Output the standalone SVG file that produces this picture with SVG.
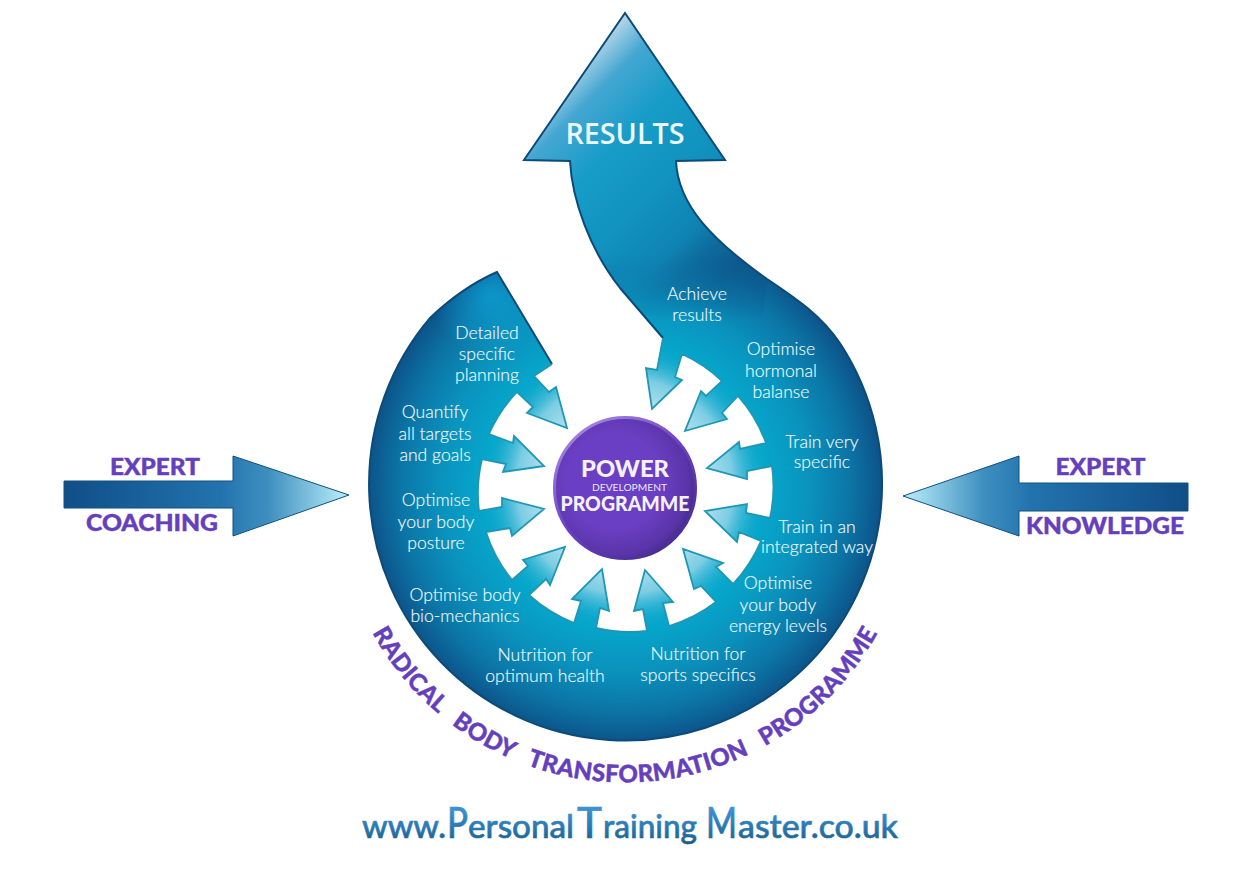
<svg xmlns="http://www.w3.org/2000/svg" width="1241" height="877" viewBox="0 0 1241 877">
<style>
.lab{font-family:"Lato","Liberation Sans",sans-serif;font-weight:300;font-size:17.6px;fill:#eefafd;text-anchor:middle;stroke:#eefafd;stroke-width:0.15}
.pur{font-family:"Lato","Liberation Sans",sans-serif;font-weight:900;fill:#6540bd;text-anchor:middle;stroke:#6540bd;stroke-width:0.4}
.wht{font-family:"Lato","Liberation Sans",sans-serif;font-weight:900;fill:#f4f1fb;text-anchor:middle}
.side{stroke:#12507e;stroke-width:1}
.edge{fill:none;stroke:#0d4a78;stroke-width:2;stroke-linejoin:miter}
.rim{fill:none;stroke:#1f97b4;stroke-width:1.8;stroke-linejoin:miter}
</style>
<defs>
<radialGradient id="bodyG" gradientUnits="userSpaceOnUse" cx="625" cy="486" r="257">
<stop offset="0.55" stop-color="#06a6cb"/><stop offset="0.72" stop-color="#0a92bd"/><stop offset="0.88" stop-color="#0c74a5"/><stop offset="1" stop-color="#0c5389"/>
</radialGradient>
<radialGradient id="tipG" gradientUnits="userSpaceOnUse" cx="490" cy="295" r="60">
<stop offset="0" stop-color="#0cb2e6" stop-opacity="0.6"/><stop offset="1" stop-color="#0cb2e6" stop-opacity="0"/>
</radialGradient>
<radialGradient id="arrowG" gradientUnits="userSpaceOnUse" cx="625" cy="486" r="150">
<stop offset="0.5" stop-color="#bfe5f1"/><stop offset="0.72" stop-color="#7ccde3"/><stop offset="0.95" stop-color="#0da8cc" stop-opacity="0"/>
</radialGradient>
<linearGradient id="resG" gradientUnits="userSpaceOnUse" x1="570" y1="30" x2="770" y2="230">
<stop offset="0" stop-color="#d6e4ee"/><stop offset="0.1" stop-color="#b4d6e8"/><stop offset="0.22" stop-color="#45a7d2"/><stop offset="0.4" stop-color="#179cc8"/><stop offset="0.62" stop-color="#1192bf"/><stop offset="0.8" stop-color="#0f84b3"/><stop offset="0.9" stop-color="#0e6a9c"/><stop offset="1" stop-color="#0d5a8e"/>
</linearGradient>
<linearGradient id="fadeG" gradientUnits="userSpaceOnUse" x1="0" y1="255" x2="0" y2="320">
<stop offset="0" stop-color="#fff"/><stop offset="1" stop-color="#000"/>
</linearGradient>
<mask id="fadeM" maskUnits="userSpaceOnUse" x="0" y="0" width="1241" height="877"><rect width="1241" height="877" fill="url(#fadeG)"/></mask>
<linearGradient id="leftG" gradientUnits="userSpaceOnUse" x1="64" y1="0" x2="349" y2="0">
<stop offset="0" stop-color="#104e87"/><stop offset="0.55" stop-color="#2273ad"/><stop offset="0.72" stop-color="#3f90c0"/><stop offset="0.97" stop-color="#aee6f4"/>
</linearGradient>
<linearGradient id="rightG" gradientUnits="userSpaceOnUse" x1="1188" y1="0" x2="903" y2="0">
<stop offset="0" stop-color="#104e87"/><stop offset="0.55" stop-color="#2273ad"/><stop offset="0.72" stop-color="#3f90c0"/><stop offset="0.97" stop-color="#aee6f4"/>
</linearGradient>
<radialGradient id="hubG" gradientUnits="objectBoundingBox" cx="0.42" cy="0.45" r="0.62">
<stop offset="0.55" stop-color="#6a3fc3"/><stop offset="0.85" stop-color="#5a34a8"/><stop offset="1" stop-color="#3f2a86"/>
</radialGradient>
<linearGradient id="hubRim" x1="0.2" y1="0.1" x2="0.8" y2="0.9">
<stop offset="0" stop-color="#9d7fdc"/><stop offset="0.5" stop-color="#6a3fc3"/><stop offset="1" stop-color="#4a2f95"/>
</linearGradient>
<linearGradient id="urlG" gradientUnits="userSpaceOnUse" x1="0" y1="808" x2="0" y2="848">
<stop offset="0" stop-color="#3f92d2"/><stop offset="0.5" stop-color="#2877b0"/><stop offset="1" stop-color="#17587f"/>
</linearGradient>
<path id="arcText" d="M363 614 A288 288 0 0 0 887 614"/>
</defs>

<g id="node-body">
<path id="body" fill="url(#bodyG)" d="M497 272 C472 283 450 299 430.5 317.4 A256.5 256.5 0 1 0 840.5 344 C822 316 797 299 767 279 C712 240 678 205 676 161 L725 160 L625 13 L524 160 L570 161 C572 200 590 250 620 288 L663 338 L657 370 L646 368 L652 409 L682 380 L675 377 L682 354 A146 146 0 0 1 722 381 L706 396 L701 391 L685 431 L727 419 L722 413 L738 396 A146 146 0 0 1 766 443 L740 449 L739 442 L707 468 L747 479 L747 471 L772 466 A146 146 0 0 1 770 518 L746 513 L747 504 L705 511 L737 542 L739 532 L761 541 A146 146 0 0 1 733 584 L716 567 L723 563 L683 549 L694 589 L701 586 L716 602 A146 146 0 0 1 669 626 L663 603 L673 602 L645 570 L634 611 L643 609 L647 631 A146 146 0 0 1 596 628 L600 608 L609 611 L602 569 L572 599 L581 601 L574 623 A146 146 0 0 1 529 595 L546 579 L550 585 L565 547 L523 560 L528 566 L512 580 A146 146 0 0 1 486 532 L510 528 L512 536 L544 509 L502 498 L502 507 L479 511 A146 146 0 0 1 482 459 L506 464 L503 472 L544 466 L514 436 L513 443 L489 434 A146 146 0 0 1 517 392 L533 407 L527 413 L567 428 L556 387 L549 392 L534 376 L552 364 Z"/>
<path fill="url(#tipG)" d="M497 272 C472 283 450 299 430.5 317.4 L425 330 L480 360 L540 345 Z"/>
<path fill="url(#resG)" mask="url(#fadeM)" d="M625 13 L725 160 L676 161 C678 205 712 240 767 279 L760 340 L663 338 L620 288 C590 250 572 200 570 161 L524 160 Z"/>
<path class="edge" d="M552 364 L497 272 C472 283 450 299 430.5 317.4 A256.5 256.5 0 1 0 840.5 344 C822 316 797 299 767 279 C712 240 678 205 676 161 L725 160 L625 13 L524 160 L570 161 C572 200 590 250 620 288 L663 338"/>
</g>

<g id="connectors">
<g fill="url(#arrowG)">
<path d="M663 338 L657 370 L646 368 L652 409 L682 380 L675 377 L682 354 Z"/>
<path d="M722 381 L706 396 L701 391 L685 431 L727 419 L722 413 L738 396 Z"/>
<path d="M766 443 L740 449 L739 442 L707 468 L747 479 L747 471 L772 466 Z"/>
<path d="M770 518 L746 513 L747 504 L705 511 L737 542 L739 532 L761 541 Z"/>
<path d="M733 584 L716 567 L723 563 L683 549 L694 589 L701 586 L716 602 Z"/>
<path d="M669 626 L663 603 L673 602 L645 570 L634 611 L643 609 L647 631 Z"/>
<path d="M596 628 L600 608 L609 611 L602 569 L572 599 L581 601 L574 623 Z"/>
<path d="M529 595 L546 579 L550 585 L565 547 L523 560 L528 566 L512 580 Z"/>
<path d="M486 532 L510 528 L512 536 L544 509 L502 498 L502 507 L479 511 Z"/>
<path d="M482 459 L506 464 L503 472 L544 466 L514 436 L513 443 L489 434 Z"/>
<path d="M517 392 L533 407 L527 413 L567 428 L556 387 L549 392 L534 376 Z"/>
</g>
<path class="rim" d="M663 338 L657 370 L646 368 L652 409 L682 380 L675 377 L682 354 A146 146 0 0 1 722 381 L706 396 L701 391 L685 431 L727 419 L722 413 L738 396 A146 146 0 0 1 766 443 L740 449 L739 442 L707 468 L747 479 L747 471 L772 466 A146 146 0 0 1 770 518 L746 513 L747 504 L705 511 L737 542 L739 532 L761 541 A146 146 0 0 1 733 584 L716 567 L723 563 L683 549 L694 589 L701 586 L716 602 A146 146 0 0 1 669 626 L663 603 L673 602 L645 570 L634 611 L643 609 L647 631 A146 146 0 0 1 596 628 L600 608 L609 611 L602 569 L572 599 L581 601 L574 623 A146 146 0 0 1 529 595 L546 579 L550 585 L565 547 L523 560 L528 566 L512 580 A146 146 0 0 1 486 532 L510 528 L512 536 L544 509 L502 498 L502 507 L479 511 A146 146 0 0 1 482 459 L506 464 L503 472 L544 466 L514 436 L513 443 L489 434 A146 146 0 0 1 517 392 L533 407 L527 413 L567 428 L556 387 L549 392 L534 376 L552 364"/>
<path id="arrow-left" class="side" fill="url(#leftG)" d="M64 481 L233 481 L233 456 L349 495 L233 536 L233 508 L64 508 Z"/>
<path id="arrow-right" class="side" fill="url(#rightG)" d="M1188 483 L1019 483 L1019 456 L903 496 L1019 536 L1019 511 L1188 511 Z"/>
</g>

<g id="node-results"><text x="625" y="144" font-family="'Open Sans','Liberation Sans',sans-serif" font-weight="600" font-size="29" fill="#ecf7fb" text-anchor="middle" textLength="119" lengthAdjust="spacingAndGlyphs">RESULTS</text></g>

<g id="node-hub">
<circle cx="625" cy="488" r="70.5" fill="url(#hubG)" stroke="url(#hubRim)" stroke-width="3"/>
<text class="wht" x="625" y="477" font-size="22" textLength="88" lengthAdjust="spacingAndGlyphs">POWER</text>
<text x="629.5" y="491" font-family="Lato,'Liberation Sans',sans-serif" font-size="10" fill="#ece8f8" text-anchor="middle" textLength="75" lengthAdjust="spacingAndGlyphs">DEVELOPMENT</text>
<text class="wht" x="625" y="511" font-size="21" textLength="129" lengthAdjust="spacingAndGlyphs">PROGRAMME</text>
</g>

<g id="node-planning"><text class="lab" x="487" y="339">Detailed</text><text class="lab" x="487" y="360">specific</text><text class="lab" x="487" y="381">planning</text></g>
<g id="node-quantify"><text class="lab" x="435" y="418">Quantify</text><text class="lab" x="435" y="440">all targets</text><text class="lab" x="435" y="461">and goals</text></g>
<g id="node-posture"><text class="lab" x="436" y="506">Optimise</text><text class="lab" x="436" y="528">your body</text><text class="lab" x="436" y="549">posture</text></g>
<g id="node-biomech"><text class="lab" x="465" y="601">Optimise body</text><text class="lab" x="465" y="622">bio-mechanics</text></g>
<g id="node-health"><text class="lab" x="545" y="661">Nutrition for</text><text class="lab" x="545" y="682">optimum health</text></g>
<g id="node-sports"><text class="lab" x="698" y="660">Nutrition for</text><text class="lab" x="698" y="681">sports specifics</text></g>
<g id="node-energy"><text class="lab" x="778" y="589">Optimise</text><text class="lab" x="778" y="611">your body</text><text class="lab" x="778" y="632">energy levels</text></g>
<g id="node-integrated"><text class="lab" x="817" y="533">Train in an</text><text class="lab" x="817" y="553">integrated way</text></g>
<g id="node-train"><text class="lab" x="822" y="448">Train very</text><text class="lab" x="822" y="468">specific</text></g>
<g id="node-hormonal"><text class="lab" x="781" y="355">Optimise</text><text class="lab" x="781" y="377">hormonal</text><text class="lab" x="781" y="398">balanse</text></g>
<g id="node-achieve"><text class="lab" x="697" y="300">Achieve</text><text class="lab" x="697" y="321">results</text></g>

<g id="node-coaching"><text class="pur" x="155" y="475" font-size="23" textLength="90" lengthAdjust="spacingAndGlyphs">EXPERT</text><text class="pur" x="152" y="531" font-size="23" textLength="132" lengthAdjust="spacingAndGlyphs">COACHING</text></g>
<g id="node-knowledge"><text class="pur" x="1100.5" y="475" font-size="23" textLength="90" lengthAdjust="spacingAndGlyphs">EXPERT</text><text class="pur" x="1105" y="534" font-size="23" textLength="158" lengthAdjust="spacingAndGlyphs">KNOWLEDGE</text></g>

<g id="node-radical"><text class="pur" font-size="24" letter-spacing="0.3" word-spacing="11.5"><textPath href="#arcText" startOffset="50%">RADICAL BODY TRANSFORMATION PROGRAMME</textPath></text></g>

<g id="node-url"><text font-family="Lato,'Liberation Sans',sans-serif" font-size="33" font-weight="500" fill="url(#urlG)" stroke="url(#urlG)" stroke-width="0.6" y="838"><tspan x="362" y="838" textLength="84" lengthAdjust="spacingAndGlyphs">www.</tspan><tspan x="447" font-size="42" textLength="21" lengthAdjust="spacingAndGlyphs">P</tspan><tspan x="468" textLength="106" lengthAdjust="spacingAndGlyphs">ersonal</tspan><tspan x="577" font-size="42" textLength="25" lengthAdjust="spacingAndGlyphs">T</tspan><tspan x="603" textLength="94" lengthAdjust="spacingAndGlyphs">raining</tspan><tspan x="706" font-size="42" textLength="31" lengthAdjust="spacingAndGlyphs">M</tspan><tspan x="738" textLength="160" lengthAdjust="spacingAndGlyphs">aster.co.uk</tspan></text></g>
</svg>
